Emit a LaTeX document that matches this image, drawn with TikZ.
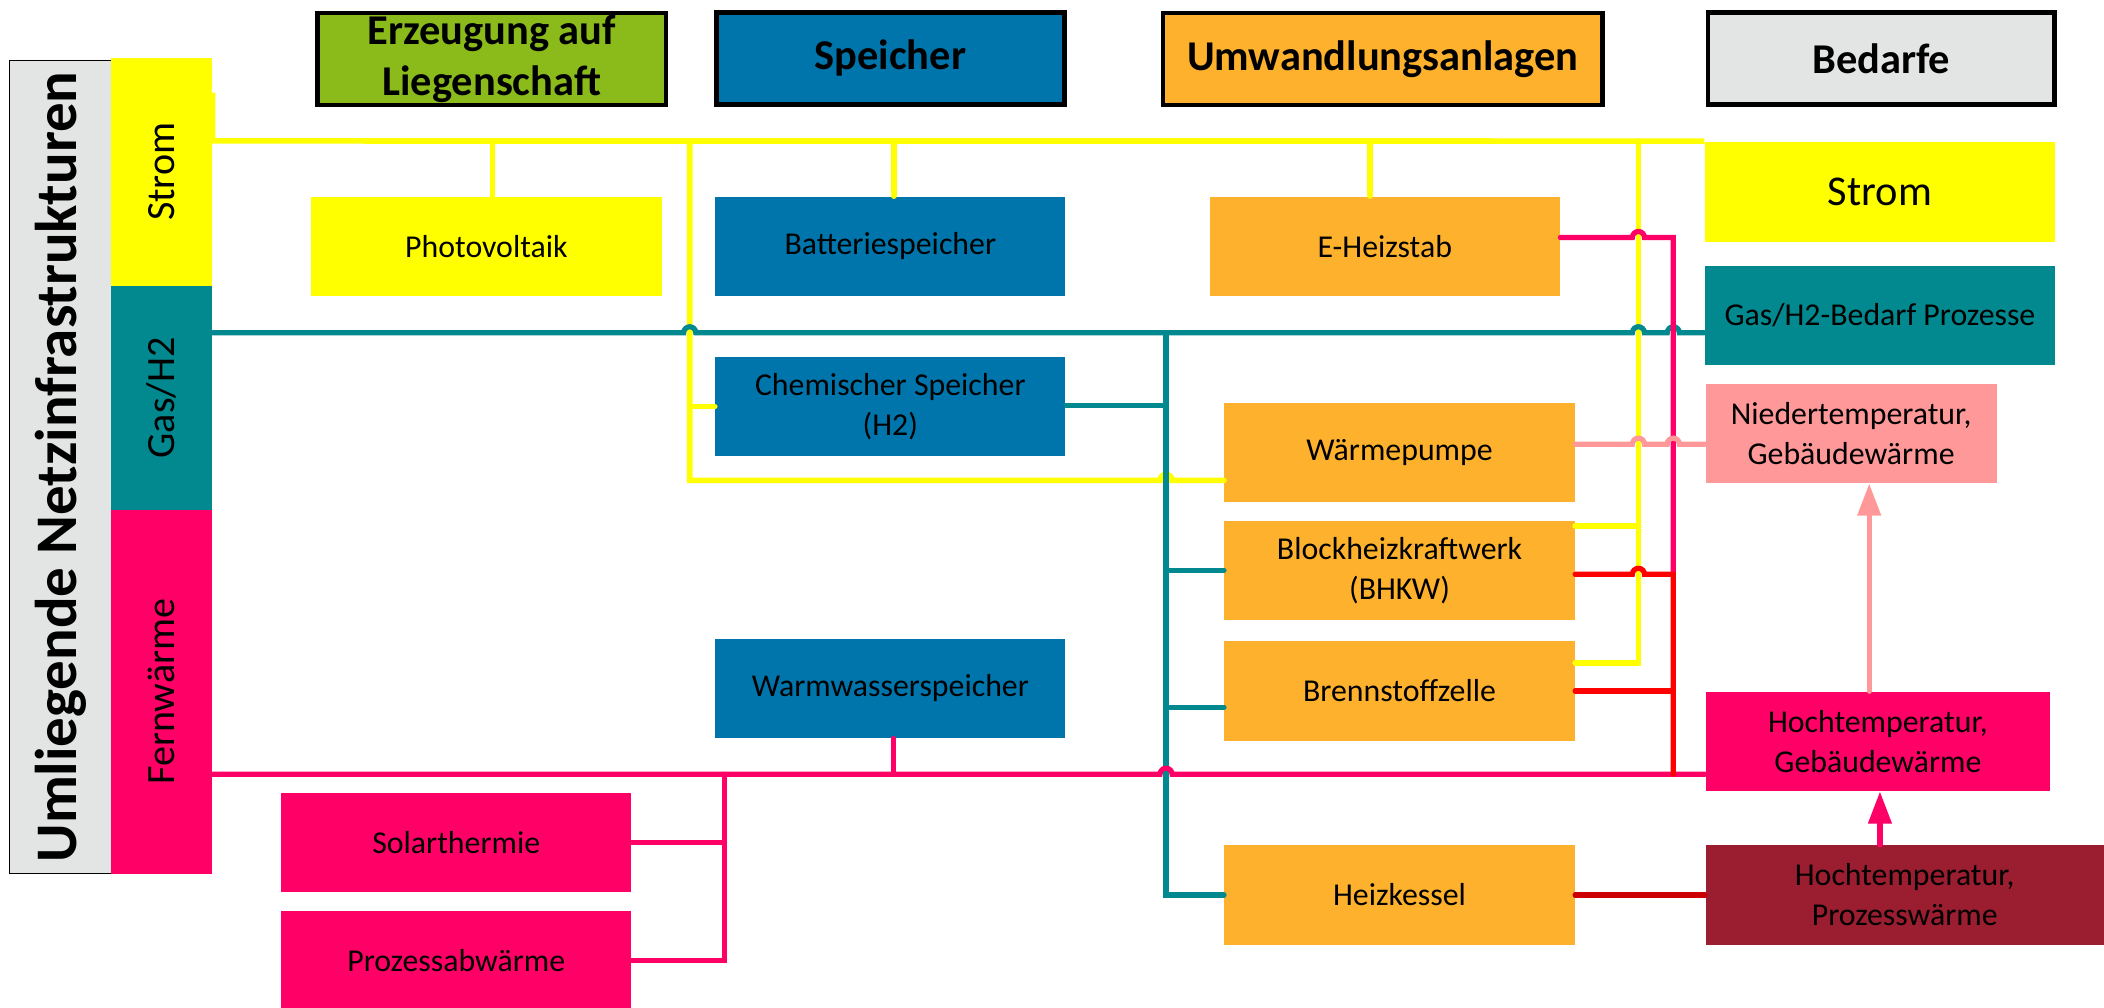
\documentclass[tikz,border=0pt]{standalone}
\usepackage{fontspec}
\setmainfont{Carlito}
\usetikzlibrary{calc,positioning,arrows.meta}

\definecolor{cStrom}{HTML}{FFFF00}
\definecolor{cGas}{HTML}{02898F}
\definecolor{cSpeicher}{HTML}{0075AC}
\definecolor{cAnlage}{HTML}{FDB12C}
\definecolor{cErz}{HTML}{8BBA1B}
\definecolor{cFern}{HTML}{FF0066}
\definecolor{cNieder}{HTML}{FF9999}
\definecolor{cProz}{HTML}{9B1D30}
\definecolor{cGrau}{HTML}{E3E4E4}
\definecolor{cRot}{HTML}{FF0000}
\definecolor{cKessel}{HTML}{CC0000}

\newcommand{\hopr}{0.09cm}

\begin{document}
\begin{tikzpicture}[x=0.02cm,y=-0.02cm,
    box/.style={inner sep=0pt,align=center,minimum width=5.22cm,minimum height=1.48cm,font=\fontsize{13.5}{17}\selectfont},
    kopf/.style={draw=black,line width=2pt,inner sep=0pt,align=center,minimum height=1.37cm,font=\fontsize{18}{21.5}\selectfont\bfseries},
    netzbox/.style={rotate=90,inner sep=0pt,minimum height=1.5cm,font=\fontsize{17}{20}\selectfont},
    leitung/.style={line width=2.2pt,line cap=round},
    sl/.style={leitung,draw=cStrom,line width=2.4pt},
    gl/.style={leitung,draw=cGas},
    fl/.style={leitung,draw=cFern},
    rl/.style={leitung,draw=cRot},
    nl/.style={leitung,draw=cNieder},
    kl/.style={leitung,draw=cKessel},
    pfeil/.style={-{Triangle[length=0.48cm,width=0.34cm]}}]

    \useasboundingbox (0,0) rectangle (1568,751);

    \node [netzbox,fill=cGrau,draw=black,line width=0.6pt,minimum width=12.12cm,minimum height=1.52cm,font=\fontsize{25}{28}\selectfont\bfseries] (umland) at (45,348) {Umliegende Netzinfrastrukturen};
    \node [netzbox,fill=cStrom,minimum width=3.4cm] (strom) at (120.5,128) {Strom};
    \node [netzbox,fill=cGas,minimum width=3.34cm] (gas) at (120.5,296.5) {Gas/H2};
    \node [netzbox,fill=cFern,minimum width=5.42cm] (fern) at (120.5,515.5) {Fernwärme};

    \node [kopf,fill=cErz,minimum width=5.19cm] (erz) at (366.5,44) {Erzeugung auf\\Liegenschaft};
    \node [kopf,fill=cSpeicher,minimum width=5.19cm] (spe) at (663.5,43.5) {Speicher};
    \node [kopf,fill=cAnlage,minimum width=6.55cm] (umw) at (1030.5,44) {Umwandlungsanlagen};
    \node [kopf,fill=cGrau,minimum width=5.17cm] (bed) at (1402,43.5) {Bedarfe};

    \node [box,fill=cStrom] (pv) at (362.5,183.5) {Photovoltaik};
    \node [box,fill=cSpeicher] (batt) at (663.5,183.5) {Batteriespeicher};
    \node [box,fill=cAnlage] (stab) at (1032,183.5) {E-Heizstab};
    \node [box,fill=cStrom,minimum height=1.5cm,font=\fontsize{18}{20}\selectfont] (bStrom) at (1401,143) {Strom};
    \node [box,fill=cGas] (bGas) at (1401,235) {Gas/H2-Bedarf Prozesse};
    \node [box,fill=cSpeicher] (chem) at (663.5,303) {Chemischer Speicher\\(H2)};
    \node [box,fill=cAnlage] (wp) at (1043,337) {Wärmepumpe};
    \node [box,fill=cNieder,minimum width=4.34cm] (nt) at (1379.5,323) {Niedertemperatur,\\Gebäudewärme};
    \node [box,fill=cAnlage] (bhkw) at (1043,425) {Blockheizkraftwerk\\(BHKW)};
    \node [box,fill=cAnlage] (bz) at (1043,515) {Brennstoffzelle};
    \node [box,fill=cSpeicher] (ww) at (663.5,513) {Warmwasserspeicher};
    \node [box,fill=cFern,minimum width=5.14cm] (htg) at (1399.5,552.5) {Hochtemperatur,\\Gebäudewärme};
    \node [box,fill=cFern] (solar) at (340,628) {Solarthermie};
    \node [box,fill=cFern] (abw) at (340,716) {Prozessabwärme};
    \node [box,fill=cAnlage] (kessel) at (1043,667) {Heizkessel};
    \node [box,fill=cProz,minimum width=5.94cm] (htp) at (1419.5,667) {Hochtemperatur,\\Prozesswärme};

    \coordinate (yb) at (0,105);
    \coordinate (gb) at (0,248);
    \coordinate (fb) at (0,577);
    \coordinate (yv1) at (514,0);
    \coordinate (yv2) at (1221,0);
    \coordinate (gv) at (869,0);
    \coordinate (fv) at (1247,0);
    \coordinate (wv) at (540,0);

    \draw [sl,line cap=butt] (strom.south |- 0,69) -- (strom.south |- yb) -- (bStrom.north west);
    \draw [sl] (pv.north -| 367,0) -- (367,0 |- yb);
    \draw [sl] (batt.north -| 666,0) -- (666,0 |- yb);
    \draw [sl] (stab.north -| 1021,0) -- (1021,0 |- yb);
    \draw [sl] (yv1 |- yb) -- (yv1 |- 0,358) -- ($(gv |- 0,358)+(-4.5,0)$) arc (180:0:\hopr) -- (wp.west |- 0,358);
    \draw [sl] (yv1 |- chem.west) -- (chem.west);
    \draw [sl] (yv2 |- yb) -- (yv2 |- 0,494) -- (bz.east |- 0,494);
    \draw [sl] (yv2 |- 0,392) -- (bhkw.east |- 0,392);

    \draw [gl] (gas.south |- gb) -- ($(yv1 |- gb)+(-4.5,0)$) arc (180:0:\hopr) -- ($(yv2 |- gb)+(-4.5,0)$) arc (180:0:\hopr) -- ($(fv |- gb)+(-4.5,0)$) arc (180:0:\hopr) -- (bGas.west |- gb);
    \draw [gl] (gv |- gb) -- (gv |- kessel.west) -- (kessel.west);
    \draw [gl] (chem.east |- 0,302) -- (gv |- 0,302);
    \draw [gl] (gv |- bhkw.west) -- (bhkw.west);
    \draw [gl] (gv |- 0,527) -- (bz.west |- 0,527);

    \draw [fl] (fern.south |- fb) -- ($(gv |- fb)+(-4.5,0)$) arc (180:0:\hopr) -- (htg.west |- fb);
    \draw [fl] (ww.south -| 666,0) -- (666,0 |- fb);
    \draw [fl] (wv |- fb) -- (wv |- abw.east) -- (abw.east);
    \draw [fl] (solar.east) -- (wv |- solar.east);
    \draw [fl] (stab.east |- 0,177) -- ($(yv2 |- 0,177)+(-4.5,0)$) arc (180:0:\hopr) -- (fv |- 0,177) -- (fv |- 0,428);

    \draw [rl] (bhkw.east |- 0,428) -- ($(yv2 |- 0,428)+(-4.5,0)$) arc (180:0:\hopr) -- (fv |- 0,428) -- (fv |- fb);
    \draw [rl] (bz.east |- 0,515) -- (fv |- 0,515);

    \draw [nl] (wp.east |- 0,331) -- ($(yv2 |- 0,331)+(-4.5,0)$) arc (180:0:\hopr) -- ($(fv |- 0,331)+(-4.5,0)$) arc (180:0:\hopr) -- (nt.west |- 0,331);
    \draw [nl,pfeil] (htg.north -| 1393,0) -- (nt.south -| 1393,0);
    \draw [fl,pfeil] (htp.north -| 1401,0) -- (htg.south -| 1401,0);

    \draw [kl] (kessel.east) -- (htp.west);
\end{tikzpicture}
\end{document}
